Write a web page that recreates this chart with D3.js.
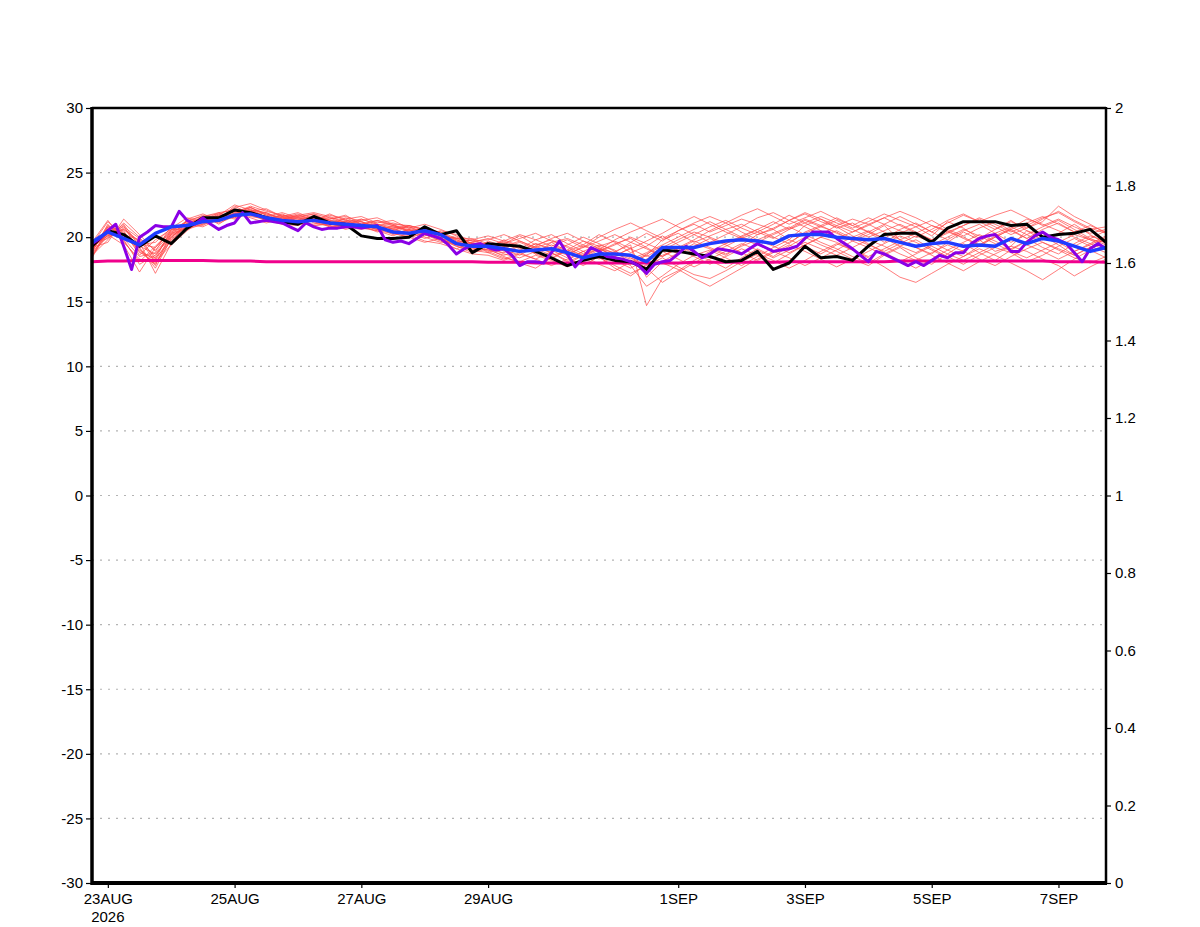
<!DOCTYPE html>
<html><head><meta charset="utf-8">
<script src="https://cdn.jsdelivr.net/npm/d3@7"></script>
<style>
html,body{margin:0;padding:0;background:#fff;}
svg text{font-family:"Liberation Sans",Arial,Helvetica,sans-serif;font-size:15px;fill:#000;}
</style></head>
<body><svg id="chart" width="1200" height="927"></svg>
<script>
// ---------- DATA ----------
// 6-hourly steps from 22AUG2026 18Z to 7SEP2026 18Z (65 steps)
const startUTC = [2026, 7, 22, 18];
const endUTC = [2026, 8, 7, 18];
const stepHours = 6;
const purpleStepHours = 3;

const xTickDates = [[2026,7,23],[2026,7,25],[2026,7,27],[2026,7,29],[2026,8,1],[2026,8,3],[2026,8,5],[2026,8,7]];
const xTickLabels = ["23AUG","25AUG","27AUG","29AUG","1SEP","3SEP","5SEP","7SEP"];
const xYearLabel = "2026";
const leftTicks = [-30,-25,-20,-15,-10,-5,0,5,10,15,20,25,30];
const rightTicks = [0,0.2,0.4,0.6,0.8,1,1.2,1.4,1.6,1.8,2];
const gridValues = [-25,-20,-15,-10,-5,0,5,10,15,20,25];

const blackSeries = [19.3,20.5,20.2,19.3,20.1,19.5,20.7,21.5,21.5,22.1,21.9,21.5,21.2,
21.0,21.6,21.1,21.0,20.1,19.9,19.9,20.0,20.8,20.2,20.5,18.8,19.5,
19.4,19.3,18.9,18.4,17.8,18.2,18.5,18.2,18.1,17.5,19.0,18.9,18.7,
18.5,18.1,18.2,18.9,17.5,18.0,19.3,18.4,18.5,18.2,19.3,20.2,20.3,
20.3,19.6,20.7,21.2,21.2,21.2,20.9,21.0,20.0,20.2,20.3,20.6,19.6];

const blueSeries = [19.6,20.4,19.9,19.4,20.3,20.8,20.9,21.2,21.3,21.7,21.8,21.5,21.3,
21.2,21.3,21.1,21.0,20.9,20.8,20.4,20.3,20.5,20.2,19.5,19.3,19.3,
19.1,18.9,19.0,19.1,18.8,18.4,18.7,18.7,18.6,18.1,19.2,19.2,19.2,
19.5,19.7,19.8,19.7,19.5,20.1,20.2,20.2,20.0,19.9,19.8,19.9,19.6,
19.3,19.5,19.6,19.3,19.4,19.3,19.9,19.5,19.9,19.7,19.3,18.9,19.2];

const magentaSeries = [18.1,18.15,18.15,18.2,18.2,18.2,18.2,18.2,18.15,18.15,18.15,18.1,18.1,
18.1,18.1,18.1,18.1,18.1,18.1,18.1,18.1,18.1,18.1,18.1,18.1,18.05,
18.05,18.05,18.0,18.0,18.0,18.0,18.0,18.0,18.0,18.0,18.0,18.0,18.05,
18.05,18.05,18.05,18.05,18.05,18.1,18.1,18.1,18.1,18.1,18.1,18.1,18.15,
18.15,18.15,18.15,18.15,18.15,18.15,18.15,18.15,18.15,18.1,18.1,18.1,18.05];

// 3-hourly (129 steps)
const purpleSeries = [19.5,19.9,20.5,21.0,19.3,17.5,20.0,20.4,20.9,20.8,20.8,22.0,21.3,21.0,21.5,21.0,
20.6,20.9,21.1,21.9,21.1,21.2,21.3,21.2,21.1,20.8,20.5,21.1,20.8,20.6,20.7,20.7,
20.8,20.8,20.7,20.8,20.9,19.8,19.6,19.7,19.5,19.9,20.3,20.1,19.9,19.4,18.7,19.1,
19.4,19.5,19.2,19.0,19.1,18.6,17.8,18.1,18.1,18.0,18.8,19.7,18.7,17.7,18.4,19.2,
18.9,18.5,18.4,18.3,18.1,17.8,17.2,17.9,18.1,18.2,18.7,19.3,18.9,18.4,18.7,19.1,
19.0,18.9,18.7,19.1,19.5,19.2,18.9,19.0,19.1,19.3,19.9,20.4,20.4,20.4,19.9,19.5,
19.1,18.6,18.1,18.9,18.7,18.4,18.1,17.8,18.1,17.8,18.2,18.6,18.4,18.8,18.8,19.5,
19.9,20.1,20.2,19.6,18.9,18.9,19.6,20.1,20.4,20.0,19.8,19.5,18.8,18.1,19.1,19.5,
19.1];

const member01 = [19.0,20.8,20.5,18.6,19.8,20.6,21.2,21.4,21.6,22.0,22.3,21.8,21.5,21.4,21.6,21.3,21.2,21.4,21.0,20.6,20.8,20.4,19.9,19.6,19.8,19.4,19.0,18.6,19.3,18.8,18.2,18.9,19.4,19.0,17.9,18.6,19.8,20.3,19.6,20.1,20.6,21.0,20.4,19.9,20.6,21.3,20.8,20.4,19.7,20.2,20.9,19.8,19.2,18.7,19.6,20.4,19.8,18.9,19.3,20.5,20.1,19.4,18.6,19.2,19.9];
const member02 = [18.6,20.2,19.4,17.3,19.2,20.4,21.0,21.6,21.2,21.9,22.4,22.0,21.7,21.6,21.8,21.5,21.3,21.0,21.3,20.9,20.5,20.7,20.3,19.8,19.3,19.6,18.9,19.4,18.7,18.3,19.0,18.6,17.9,18.5,19.2,16.9,18.1,18.8,19.5,19.1,18.6,19.4,20.2,20.6,19.8,20.9,21.4,20.7,21.1,20.4,19.6,20.3,20.8,20.1,21.2,20.7,19.9,20.6,21.3,20.5,19.8,20.3,21.0,20.2,19.5];
const member03 = [19.4,21.2,20.1,19.0,18.2,20.1,20.8,21.1,21.5,21.8,22.0,21.6,21.9,21.5,21.2,21.7,21.4,21.6,21.1,21.3,20.7,21.0,20.6,20.1,19.5,19.2,19.8,19.3,18.7,19.6,18.9,19.4,20.2,19.6,18.8,19.3,20.1,19.4,18.7,18.2,17.6,18.4,19.1,18.5,19.3,20.0,19.4,18.9,18.3,17.8,18.6,19.2,18.4,17.9,18.7,19.5,18.8,18.2,19.0,19.7,20.3,19.6,18.9,19.4,20.0];
const member04 = [18.9,20.0,20.7,19.6,17.2,19.5,21.4,21.8,21.3,22.3,22.6,22.1,21.6,21.9,21.4,21.0,21.2,20.8,20.5,20.1,20.6,20.2,19.7,19.1,19.6,19.9,19.5,20.1,19.4,19.8,19.2,18.5,19.1,18.8,19.6,20.3,19.7,20.5,21.0,20.4,20.9,21.4,21.0,20.6,21.3,21.8,21.2,20.8,20.1,19.5,18.8,18.2,17.6,18.3,19.0,18.5,19.3,20.0,20.6,19.9,19.2,18.7,19.5,20.1,19.7];
const member05 = [19.2,19.6,21.4,20.2,18.9,20.9,20.6,21.0,21.7,21.4,21.9,21.4,21.1,21.0,21.3,20.9,20.7,21.1,20.9,20.3,20.0,19.6,19.9,19.3,18.8,19.1,18.5,18.0,17.6,18.4,17.9,18.6,19.2,18.4,17.8,16.2,17.0,17.9,18.6,19.0,18.4,17.8,18.5,19.2,19.8,19.3,18.7,19.4,20.0,20.5,19.9,20.6,21.1,20.4,19.8,20.5,21.0,20.3,19.6,20.2,20.8,21.3,20.6,19.9,19.4];
const member06 = [18.4,20.5,19.8,17.9,18.6,20.2,21.1,21.3,21.9,22.1,21.7,21.3,21.8,21.2,21.0,21.4,21.6,21.2,20.8,20.7,20.9,20.5,20.0,19.9,19.5,18.8,18.3,18.8,19.5,19.1,18.6,19.3,18.9,19.5,19.9,19.2,18.5,19.2,19.8,20.5,21.1,20.4,19.8,20.3,20.8,20.2,19.6,19.1,18.5,18.0,18.7,19.3,19.8,19.1,18.5,17.9,18.6,19.2,18.8,18.1,18.6,19.3,19.9,19.3,18.8];
const member07 = [19.0,20.9,20.3,19.2,17.6,19.9,21.3,21.6,21.8,22.2,22.0,21.9,21.4,21.7,21.9,21.6,21.1,21.3,21.5,21.0,20.4,20.1,20.5,20.2,19.7,19.4,19.6,19.1,19.8,20.2,19.5,18.9,18.3,18.9,19.4,14.7,16.8,17.4,18.2,18.9,19.5,20.1,20.6,20.0,19.5,20.4,20.9,21.5,20.9,20.4,21.0,21.6,21.0,20.4,21.1,21.7,21.2,20.6,21.2,20.7,21.4,22.0,21.3,20.7,20.3];
const member08 = [19.3,20.3,20.8,19.9,19.0,20.3,20.7,21.5,21.1,21.6,22.2,21.5,21.2,21.1,20.9,21.0,20.8,20.6,20.9,21.1,20.8,20.3,19.8,19.4,19.0,19.3,19.7,19.2,18.9,18.4,19.0,19.7,19.3,18.7,18.3,18.8,19.4,20.0,20.6,21.2,20.6,20.0,19.6,20.2,20.7,21.4,20.9,20.3,19.8,20.4,19.9,19.3,18.8,19.4,20.0,20.6,20.1,19.5,18.9,18.4,19.0,19.6,20.2,19.8,19.2];
const member09 = [18.8,21.0,19.6,18.3,18.0,20.0,21.0,20.8,21.4,22.4,21.8,21.6,21.3,21.5,21.2,20.8,21.0,21.2,20.7,20.4,20.1,20.6,20.4,19.7,19.2,19.0,18.6,19.0,19.5,19.0,18.4,17.8,18.5,17.6,17.0,17.9,18.6,19.1,18.5,17.9,18.5,19.1,18.6,18.0,18.7,19.4,20.0,19.6,19.0,18.4,17.7,16.9,16.5,17.2,17.9,18.5,19.1,18.6,18.0,17.4,16.7,17.5,18.3,19.0,18.4];
const member10 = [19.1,20.6,20.0,19.4,19.6,20.7,21.5,21.2,21.8,21.5,21.9,21.8,21.5,21.3,21.5,21.2,20.9,20.7,21.0,20.6,20.3,20.8,20.1,19.9,19.9,19.5,19.2,19.6,19.1,18.6,18.9,18.4,19.0,19.8,20.4,20.9,21.4,20.8,20.2,19.6,20.2,20.8,21.5,21.9,21.3,20.8,20.2,20.9,21.4,21.0,20.4,19.8,20.3,20.9,20.5,19.9,19.4,20.1,20.7,21.4,21.0,20.5,20.0,19.5,20.1];
const member11 = [19.5,19.9,20.9,18.8,18.4,19.7,20.9,21.2,21.4,21.7,22.1,21.9,21.3,21.0,21.4,21.5,21.0,20.9,20.6,20.8,20.4,19.9,20.3,19.5,18.9,19.7,19.3,18.8,18.3,18.9,19.4,20.0,19.5,18.9,18.4,17.6,16.5,17.3,18.0,18.7,19.3,19.9,19.4,18.9,19.6,20.3,20.8,21.3,20.7,21.2,21.8,21.3,20.8,21.3,20.6,20.1,20.7,21.2,20.5,19.9,20.6,21.1,20.4,19.8,19.6];
const member12 = [18.7,20.4,20.2,19.8,18.1,19.4,20.5,21.4,21.7,22.5,22.1,21.2,21.5,21.8,21.1,20.9,21.5,21.0,20.7,20.2,20.6,20.0,19.6,19.8,19.4,18.9,18.4,18.1,18.6,18.2,17.7,18.3,17.9,17.4,18.1,18.7,19.3,18.7,19.3,19.9,19.4,18.8,18.2,18.8,19.4,18.9,18.3,17.7,18.3,18.9,19.5,20.1,19.6,19.0,18.4,19.0,19.7,20.3,20.8,20.2,19.6,19.0,18.4,18.0,18.5];
const member13 = [19.6,21.3,19.7,18.1,19.3,20.5,21.2,21.7,21.0,21.8,22.3,21.7,21.0,21.3,21.7,21.3,21.1,20.8,21.2,20.9,20.7,20.3,19.9,19.6,19.8,20.1,19.7,20.2,19.8,19.3,19.8,19.2,20.0,20.6,21.1,20.5,19.9,20.5,21.1,21.6,21.1,21.7,22.2,21.6,21.0,21.5,22.0,21.4,20.9,21.5,21.0,20.5,20.0,20.6,21.3,21.8,21.2,21.7,22.1,21.5,20.9,21.4,20.8,20.3,20.6];
const member14 = [18.5,20.7,20.4,19.1,17.8,20.3,21.1,20.9,21.6,22.0,21.6,21.4,21.7,21.4,20.9,21.1,20.6,20.9,20.4,20.7,20.2,19.7,19.5,19.1,18.7,18.6,18.2,18.7,18.3,17.8,18.3,18.9,18.4,17.8,17.2,17.8,18.4,17.7,17.1,16.8,17.4,18.1,18.7,18.2,17.6,18.2,18.9,19.5,19.0,18.5,19.1,19.7,19.2,18.6,18.0,17.4,18.1,18.7,19.3,18.9,18.3,17.8,17.0,17.7,18.3];
const member15 = [19.2,20.1,21.0,19.3,18.7,20.0,20.8,21.6,21.9,21.5,22.0,22.2,21.6,21.2,21.6,21.4,21.7,21.0,20.6,20.5,20.9,20.6,20.2,19.5,19.6,19.2,19.5,19.9,20.3,19.7,19.3,18.7,19.3,19.7,19.1,18.5,19.2,19.8,20.4,20.0,19.5,20.0,20.6,21.2,20.6,21.1,21.6,21.1,20.6,20.0,20.5,21.0,20.4,19.8,20.3,20.9,21.5,21.0,20.4,20.9,21.5,21.9,21.2,20.6,20.8];
const member16 = [19.0,20.5,19.9,18.5,18.8,20.2,20.7,21.0,21.3,21.9,21.5,21.1,21.4,21.6,21.3,21.8,21.3,21.2,20.8,20.5,20.3,20.7,20.1,19.6,19.1,19.3,18.7,18.4,18.9,19.4,18.9,18.3,18.8,18.2,17.6,18.3,18.9,18.3,17.7,18.3,18.9,19.5,19.0,18.4,19.0,19.6,19.1,18.6,19.2,19.8,19.3,18.7,18.2,18.8,19.4,18.9,18.3,17.8,18.5,19.1,19.6,19.1,18.6,19.2,19.9];
const member17 = [19.4,20.1,20.6,19.5,19.2,20.6,21.0,21.3,21.5,22.1,21.9,21.6,21.1,21.1,21.5,21.0,21.2,20.9,20.6,20.9,20.5,20.4,20.0,20.0,19.5,19.4,19.1,18.8,19.3,19.9,20.3,19.7,19.1,18.6,19.1,19.7,20.3,21.0,21.6,21.0,20.4,19.9,20.4,21.0,21.7,21.1,20.5,19.9,20.4,21.0,21.5,20.9,20.3,19.8,20.4,20.0,19.4,20.0,20.6,21.1,21.6,21.0,20.4,20.9,20.4];
const member18 = [18.9,20.8,20.2,18.9,17.9,19.8,20.9,21.4,21.6,21.8,22.3,21.7,21.4,21.7,21.4,20.8,20.9,21.4,21.0,20.8,20.6,20.2,19.8,19.3,19.0,18.8,19.3,19.7,19.2,18.8,18.1,18.6,19.1,18.5,18.0,18.6,18.0,17.5,16.8,16.2,16.9,17.6,18.3,18.9,18.4,17.8,18.4,19.0,19.7,19.2,18.6,18.1,18.7,19.3,18.7,18.2,18.8,19.4,19.9,19.4,18.9,18.3,18.9,19.5,19.0];
const member19 = [19.3,20.2,20.6,19.7,18.5,20.4,21.3,21.1,21.5,21.6,22.1,21.5,21.6,21.5,21.8,21.2,20.8,21.0,21.3,21.0,20.9,20.6,20.4,19.9,19.7,19.8,20.2,19.7,19.2,19.6,19.9,19.4,18.9,19.4,20.0,19.5,19.0,19.6,20.2,20.8,21.3,20.7,20.2,20.7,21.3,21.9,21.4,20.9,20.4,20.9,21.5,22.0,21.5,20.9,20.4,20.9,21.4,20.8,20.2,20.7,21.2,22.4,21.6,21.0,20.3];
const member20 = [18.6,19.8,21.1,20.0,18.3,20.6,20.6,21.3,21.2,21.7,21.8,21.3,21.0,20.9,21.3,21.1,21.4,20.7,20.5,20.3,20.0,20.3,19.9,19.4,19.5,19.0,18.8,19.3,18.8,19.2,18.7,19.2,19.7,20.2,19.6,19.1,18.5,19.1,19.7,19.2,18.7,19.3,19.8,19.3,18.8,19.4,20.0,20.5,19.9,19.4,18.9,19.5,20.1,19.6,19.0,19.6,20.2,19.7,19.1,19.7,20.3,19.8,19.3,19.9,20.5];
const members = [member01,member02,member03,member04,member05,member06,member07,member08,member09,member10,
                 member11,member12,member13,member14,member15,member16,member17,member18,member19,member20];

// ---------- DRAW ----------
const L = 92, R = 1106, T = 108, B = 883;
const svg = d3.select("#chart");
svg.append("rect").attr("width",1200).attr("height",927).attr("fill","#fff");

const t0 = new Date(Date.UTC(...startUTC));
const t1 = new Date(Date.UTC(...endUTC));
const x = d3.scaleUtc().domain([t0, t1]).range([L, R]);
const yL = d3.scaleLinear().domain([-30, 30]).range([B, T]);
const yR = d3.scaleLinear().domain([0, 2]).range([B, T]);
const tAt = (i, h) => new Date(t0.getTime() + i * h * 3600000);

// grid
svg.append("g").selectAll("line").data(gridValues).join("line")
  .attr("x1", L).attr("x2", R)
  .attr("y1", d => yL(d)).attr("y2", d => yL(d))
  .attr("stroke", "#b4b4b4").attr("stroke-width", 1.2)
  .attr("stroke-dasharray", "2,6");

const plot = svg.append("g");
const line6 = d3.line().x((d, i) => x(tAt(i, stepHours))).y(d => yL(d));
const line3 = d3.line().x((d, i) => x(tAt(i, purpleStepHours))).y(d => yL(d));

plot.selectAll("path.mem").data(members).join("path").attr("class","mem")
  .attr("d", line6).attr("fill","none")
  .attr("stroke","#ff4a4a").attr("stroke-width",0.8).attr("stroke-opacity",0.9);

plot.append("path").attr("d", line6(magentaSeries)).attr("fill","none")
  .attr("stroke","#f0008c").attr("stroke-width",3);
plot.append("path").attr("d", line6(blackSeries)).attr("fill","none")
  .attr("stroke","#000").attr("stroke-width",3).attr("stroke-linejoin","round");
plot.append("path").attr("d", line3(purpleSeries)).attr("fill","none")
  .attr("stroke","#8a00e6").attr("stroke-width",3).attr("stroke-linejoin","round");
plot.append("path").attr("d", line6(blueSeries)).attr("fill","none")
  .attr("stroke","#1f3cff").attr("stroke-width",3.5).attr("stroke-linejoin","round");

// axes
const axL = d3.axisLeft(yL).tickValues(leftTicks).tickSize(6).tickPadding(3).tickFormat(d => String(d));
const gL = svg.append("g").attr("transform", `translate(${L},0)`).call(axL);
gL.select(".domain").remove();

const axR = d3.axisRight(yR).tickValues(rightTicks).tickSize(5).tickPadding(4).tickFormat(d => String(+d.toFixed(1)));
const gR = svg.append("g").attr("transform", `translate(${R},0)`).call(axR);
gR.select(".domain").remove();

const tickDates = xTickDates.map(d => new Date(Date.UTC(d[0], d[1], d[2])));
const axB = d3.axisBottom(x).tickValues(tickDates).tickSize(5).tickPadding(5)
  .tickFormat((d, i) => xTickLabels[i]);
const gB = svg.append("g").attr("transform", `translate(0,${B})`).call(axB);
gB.select(".domain").remove();
svg.append("text").attr("x", x(tickDates[0])).attr("y", 922)
  .attr("text-anchor","middle").text(xYearLabel);

svg.selectAll(".tick line").attr("stroke","#000").attr("stroke-width",1.2);
svg.selectAll(".tick text").style("font-size","15px");

// frame
svg.append("line").attr("x1",L).attr("x2",R).attr("y1",T).attr("y2",T).attr("stroke","#000").attr("stroke-width",2.5);
svg.append("line").attr("x1",R).attr("x2",R).attr("y1",T-1).attr("y2",B).attr("stroke","#000").attr("stroke-width",2.5);
svg.append("line").attr("x1",L).attr("x2",L).attr("y1",T-1).attr("y2",B+2).attr("stroke","#000").attr("stroke-width",3.5);
svg.append("line").attr("x1",L).attr("x2",R+1).attr("y1",B).attr("y2",B).attr("stroke","#000").attr("stroke-width",4);
</script></body></html>
